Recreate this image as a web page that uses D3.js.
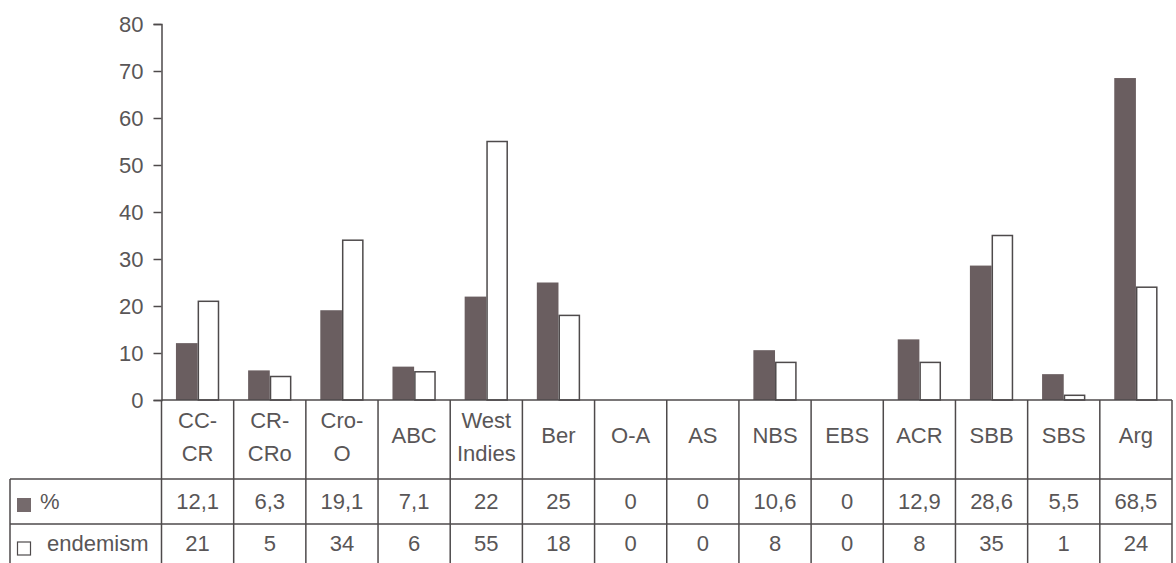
<!DOCTYPE html>
<html><head><meta charset="utf-8">
<script src="https://cdn.jsdelivr.net/npm/d3@7/dist/d3.min.js"></script>
<style>
html,body{margin:0;padding:0;background:#fff;}
svg text{font-family:"Liberation Sans",Arial,sans-serif;fill:#595657;}
</style></head>
<body>
<svg id="chart" width="1176" height="563"></svg>
<script>
const categories = ["CC-\nCR","CR-\nCRo","Cro-\nO","ABC","West\nIndies","Ber","O-A","AS","NBS","EBS","ACR","SBB","SBS","Arg"];
const pctValues = [12.1,6.3,19.1,7.1,22,25,0,0,10.6,0,12.9,28.6,5.5,68.5];
const endemismValues = [21,5,34,6,55,18,0,0,8,0,8,35,1,24];
const pctLabels = ["12,1","6,3","19,1","7,1","22","25","0","0","10,6","0","12,9","28,6","5,5","68,5"];
const endemismLabels = ["21","5","34","6","55","18","0","0","8","0","8","35","1","24"];
const seriesNames = ["%","endemism"];
const yTicks = [0,10,20,30,40,50,60,70,80];

(function(){
const svg = d3.select("#chart");
const dark = "#6a5e60", lineC = "#4e4a4b", fs = 22, txtC = "#595657";
const pLeft = 161.5, pRight = 1172, pTop = 24, base = 400;
const rowTop = [400, 479, 524], rowBot = 569;

const x = d3.scaleBand().domain(d3.range(categories.length)).range([pLeft, pRight]).paddingInner(0).paddingOuter(0);
const x1 = d3.scaleBand().domain([0,1]).range([0, x.bandwidth()]).paddingInner(0).paddingOuter(0.667);
const y = d3.scaleLinear().domain([0,80]).range([base, pTop]);

// y axis
const yAxis = d3.axisLeft(y).tickValues(yTicks).tickSize(8).tickPadding(10);
const gy = svg.append("g").attr("transform",`translate(${pLeft},0)`).call(yAxis);
gy.select(".domain").attr("stroke",lineC).attr("stroke-width",1.5);
gy.selectAll(".tick line").attr("stroke",lineC).attr("stroke-width",1.5);
gy.selectAll(".tick text").attr("font-size",fs).attr("fill",txtC).style("font-family","Liberation Sans, Arial, sans-serif");

// bars
const gb = svg.append("g");
categories.forEach((c,i)=>{
  const vals = [pctValues[i], endemismValues[i]];
  vals.forEach((v,j)=>{
    if(v<=0) return;
    gb.append("rect")
      .attr("x", x(i)+x1(j)+(j===1?0.75:0))
      .attr("y", y(v))
      .attr("width", x1.bandwidth()-(j===1?1.5:0))
      .attr("height", base - y(v))
      .attr("fill", j===0?dark:"#fff")
      .attr("stroke", j===0?"none":lineC)
      .attr("stroke-width", 1.5);
  });
});

// table lines
const gt = svg.append("g").attr("stroke",lineC).attr("stroke-width",1.5);
gt.append("line").attr("x1",pLeft).attr("x2",pRight).attr("y1",base).attr("y2",base);
gt.append("line").attr("x1",10).attr("x2",pRight).attr("y1",rowTop[1]).attr("y2",rowTop[1]);
gt.append("line").attr("x1",10).attr("x2",pRight).attr("y1",rowTop[2]).attr("y2",rowTop[2]);
gt.append("line").attr("x1",10).attr("x2",10).attr("y1",rowTop[1]).attr("y2",rowBot);
d3.range(categories.length+1).forEach(i=>{
  const xx = i<categories.length ? x(i) : pRight;
  gt.append("line").attr("x1",xx).attr("x2",xx).attr("y1",base).attr("y2",rowBot);
});

// category labels
const gc = svg.append("g").attr("font-size",fs).attr("text-anchor","middle");
categories.forEach((c,i)=>{
  const lines = c.split("\n");
  const cx = x(i)+x.bandwidth()/2;
  if(lines.length===1){
    gc.append("text").attr("x",cx).attr("y",443).text(lines[0]);
  } else {
    gc.append("text").attr("x",cx).attr("y",428).text(lines[0]);
    gc.append("text").attr("x",cx).attr("y",461).text(lines[1]);
  }
});
// data rows
categories.forEach((c,i)=>{
  const cx = x(i)+x.bandwidth()/2;
  gc.append("text").attr("x",cx).attr("y",509).text(pctLabels[i]);
  gc.append("text").attr("x",cx).attr("y",551).text(endemismLabels[i]);
});
// legend in row headers
svg.append("rect").attr("x",17).attr("y",498).attr("width",14).attr("height",14).attr("fill","#756a6c");
svg.append("text").attr("x",40).attr("y",509).attr("font-size",fs).text(seriesNames[0]);
svg.append("rect").attr("x",17.5).attr("y",542).attr("width",13).attr("height",13).attr("fill","#fff").attr("stroke",lineC).attr("stroke-width",1.2);
svg.append("text").attr("x",47).attr("y",551).attr("font-size",fs).text(seriesNames[1]);
})();
</script>
</body></html>
